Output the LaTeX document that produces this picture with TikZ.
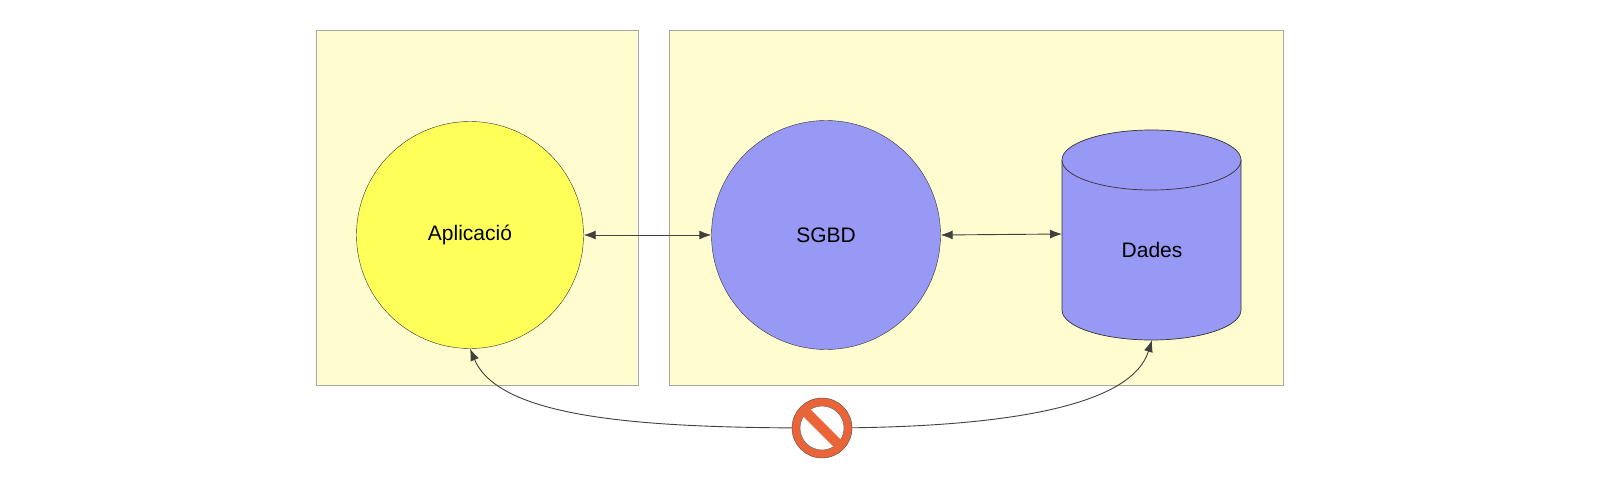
\documentclass[tikz,border=0pt]{standalone}
\usepackage{fontspec}
\setmainfont{Liberation Sans}
\usetikzlibrary{arrows.meta}
\definecolor{dbblue}{RGB}{152,152,245}
\definecolor{noorange}{RGB}{235,100,55}
\definecolor{panelfill}{RGB}{255,252,208}
\definecolor{appyel}{RGB}{255,255,90}
\begin{document}
\begin{tikzpicture}[x=1pt,y=-1pt,
  panel/.style={draw=black!35,fill=panelfill,line width=0.8pt},
  conn/.style={draw=black!75,line width=0.9pt,{Latex[length=12pt,width=9pt]}-{Latex[length=12pt,width=9pt]}},
  lbl/.style={font=\fontsize{21}{24}\selectfont}]
\useasboundingbox (0,0) rectangle (1608,500);
\fill[white] (0,0) rectangle (1608,500);
\draw[panel] (316,30) rectangle (638,385);
\draw[panel] (669,30) rectangle (1283,385);
\node[circle,draw=black!80,fill=appyel,minimum size=227pt,inner sep=0,lbl] (app) at (470,235) {Aplicació};
\node[circle,draw=black!80,fill=dbblue,minimum size=229pt,inner sep=0,lbl] (sgbd) at (826,235) {SGBD};
% cylinder
\fill[dbblue] (1062,160) -- (1062,310) arc[start angle=180,end angle=0,x radius=89.5,y radius=30] -- (1241,160) -- cycle;
\draw[black!80,line width=0.7pt] (1062,160) -- (1062,310) arc[start angle=180,end angle=0,x radius=89.5,y radius=30] -- (1241,160);
\draw[black!80,line width=0.7pt,fill=dbblue] (1151.5,160) ellipse[x radius=89.5,y radius=30];
\node[lbl] (dades) at (1152,250) {Dades};
\coordinate (cl) at (1062,234);
\coordinate (cb) at (1152,340);
\draw[conn] (app.east) -- (sgbd.west);
\draw[conn] (sgbd.east) -- (cl);
\draw[conn] (app.south) .. controls (500,420) and (650,428) .. (822,428) .. controls (990,428) and (1130,410) .. (cb);
% prohibition sign
\node[circle,draw=black!70,fill=noorange,minimum size=60pt,inner sep=0] (no) at (822,428) {};
\fill[white] (822,428) circle[radius=22];
\draw[black!60,line width=0.5pt] (822,428) circle[radius=22];
\fill[noorange,rotate around={-45:(822,428)}] (800,423) rectangle (844,433);
\end{tikzpicture}
\end{document}
